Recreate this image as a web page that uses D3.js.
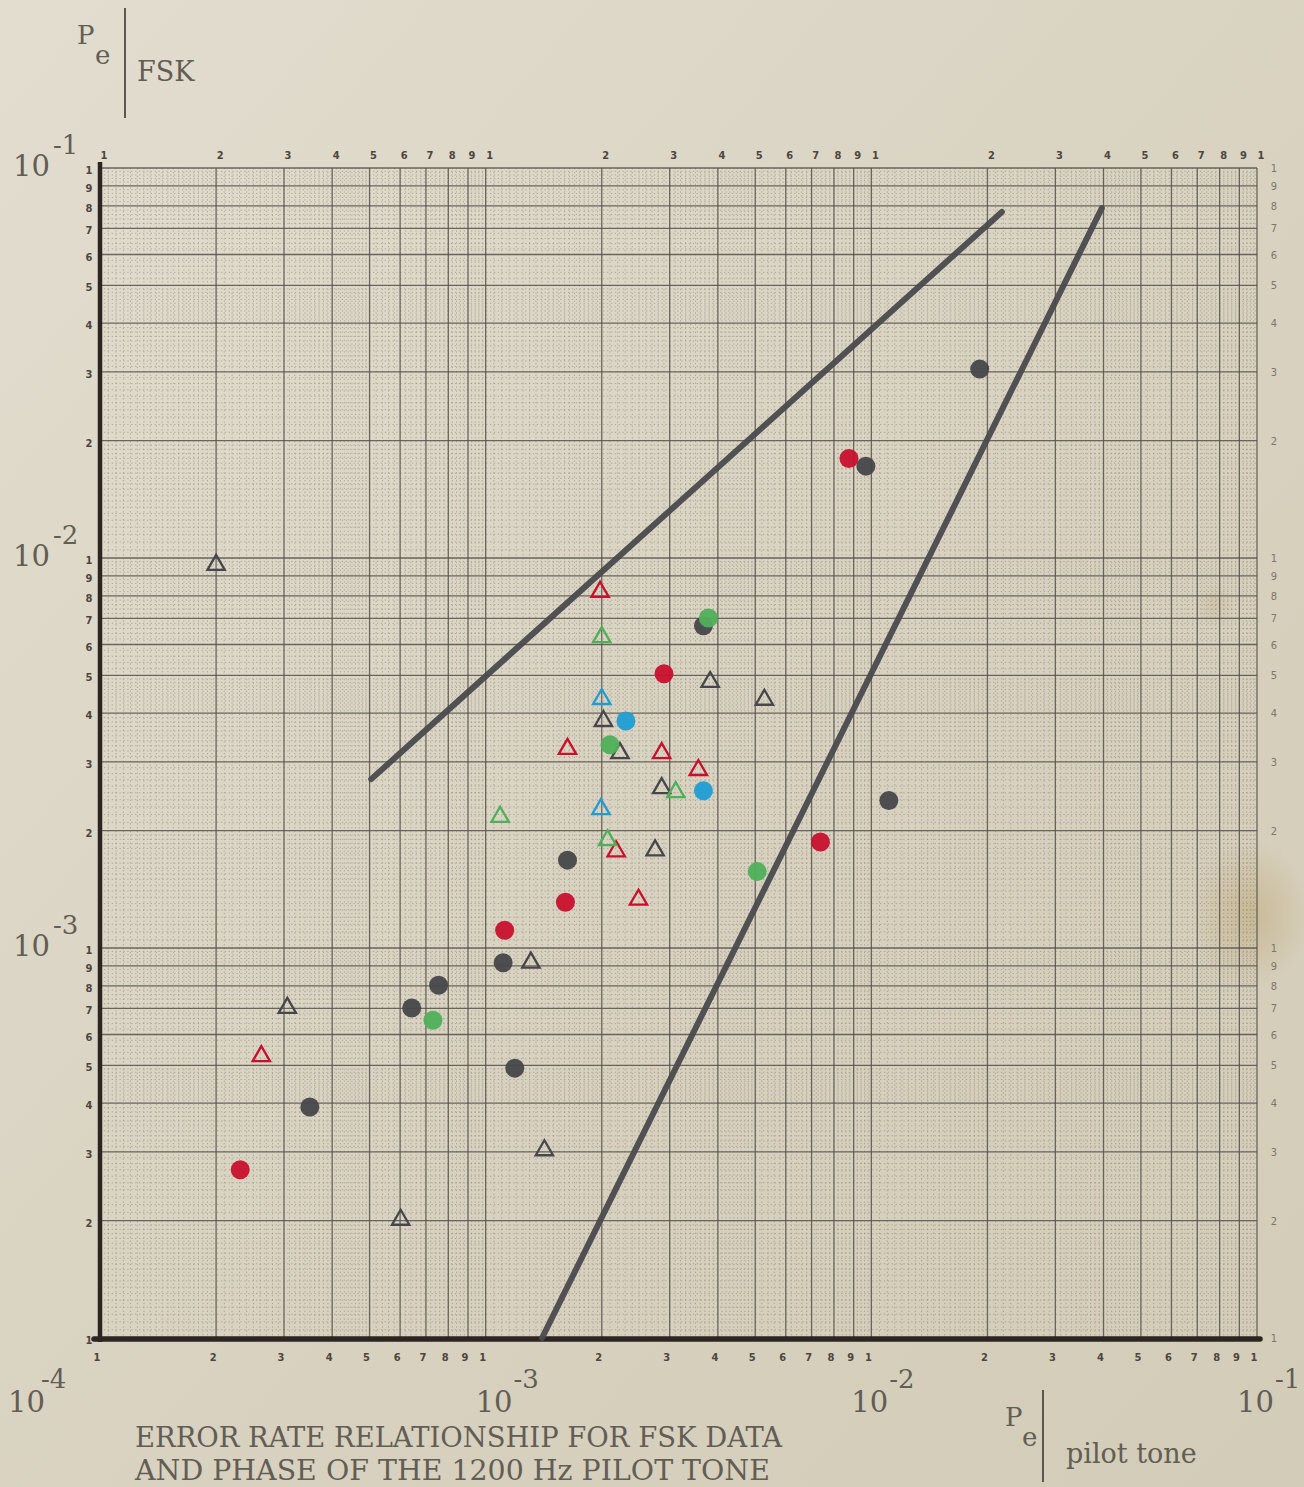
<!DOCTYPE html>
<html>
<head>
<meta charset="utf-8">
<script src="https://cdn.jsdelivr.net/npm/d3@7"></script>
<style>
  body { margin: 0; background: #d9d3c2; }
  svg { display: block; }
</style>
</head>
<body>
<div id="chart"></div>
<script>
// each reading is [Pe pilot tone, Pe FSK]
const darkDots = [
    [0.0191, 0.0305], [0.00968, 0.0172], [0.00367, 0.0067], [0.0111, 0.00239],
    [0.00163, 0.00168], [0.00111, 0.000917], [0.000755, 0.000803], [0.000643, 0.000702],
    [0.00119, 0.000492], [0.00035, 0.000391]
];
const redDots = [
    [0.00875, 0.018], [0.0029, 0.00505], [0.00738, 0.00187], [0.00161, 0.00131],
    [0.00112, 0.00111], [0.000231, 0.00027]
];
const greenDots = [[0.00378, 0.00702], [0.0021, 0.00332], [0.00506, 0.00157], [0.00073, 0.000653]];
const blueDots = [[0.00231, 0.00382], [0.00367, 0.00253]];

const darkTriangles = [
    [0.0002, 0.0096], [0.00382, 0.00481], [0.00528, 0.00433], [0.00202, 0.00382],
    [0.00223, 0.00316], [0.00286, 0.00257], [0.00275, 0.00178], [0.00131, 0.000917],
    [0.000306, 0.000702], [0.00142, 0.000303], [0.000602, 0.000201]
];
const redTriangles = [
    [0.00198, 0.00819], [0.00163, 0.00324], [0.00286, 0.00316], [0.00356, 0.00286],
    [0.00218, 0.00177], [0.00249, 0.00133], [0.000262, 0.000528]
];
const greenTriangles = [[0.002, 0.00627], [0.00109, 0.00217], [0.00311, 0.00251], [0.00207, 0.00189]];
const blueTriangles = [[0.002, 0.00435], [0.00199, 0.00227]];

// the two hand drawn boundary lines
const boundLines = [
    [[0.000505, 0.00271], [0.0218, 0.0771]],
    [[0.0014, 0.0001], [0.0396, 0.0789]]
];

const decades = [-4, -3, -2];
const decadeLabels = ['-4', '-3', '-2', '-1'];
const paperDigits = [1, 2, 3, 4, 5, 6, 7, 8, 9];
const titleLines = ['ERROR RATE RELATIONSHIP FOR FSK DATA', 'AND PHASE OF THE 1200 Hz PILOT TONE'];

const width = 1304,
    height = 1487,
    plot = {left: 100, right: 1257, top: 168, bottom: 1338},
    ink = '#4a4a4e',
    textInk = '#625d55',
    serif = 'DejaVu Serif, Liberation Serif, serif',
    digitFont = 'DejaVu Sans Condensed, DejaVu Sans, sans-serif';

const colors = {dark: '#47474b', red: '#c8102e', green: '#4fb05a', blue: '#1f9dd3'};

let svg = d3.select('#chart').append('svg')
    .attr('width', width)
    .attr('height', height);

const defs = svg.append('defs');
const grad = defs.append('linearGradient')
    .attr('id', 'paper')
    .attr('x1', 0).attr('y1', 0).attr('x2', 1).attr('y2', 1);
grad.append('stop').attr('offset', '0%').attr('stop-color', '#e2ddcf');
grad.append('stop').attr('offset', '60%').attr('stop-color', '#d8d1bf');
grad.append('stop').attr('offset', '100%').attr('stop-color', '#d3ccb8');

const stain = defs.append('radialGradient').attr('id', 'stain');
stain.append('stop').attr('offset', '0%').attr('stop-color', '#b59a5c').attr('stop-opacity', 0.4);
stain.append('stop').attr('offset', '100%').attr('stop-color', '#b59a5c').attr('stop-opacity', 0);

svg.append('rect')
    .attr('width', width)
    .attr('height', height)
    .attr('fill', 'url(#paper)');

svg.append('ellipse')
    .attr('cx', 1250).attr('cy', 915)
    .attr('rx', 60).attr('ry', 75)
    .attr('fill', 'url(#stain)');
svg.append('ellipse')
    .attr('cx', 1215).attr('cy', 605)
    .attr('rx', 22).attr('ry', 22)
    .attr('fill', 'url(#stain)')
    .attr('opacity', 0.5);

const x = d3.scaleLog().domain([1e-4, 1e-1]).range([plot.left, plot.right]);
const y = d3.scaleLog().domain([1e-4, 1e-1]).range([plot.bottom, plot.top]);

// graph paper rulings
function minorSteps() {
    const out = [];
    for (let v = 1.05; v < 1.99; v += 0.05) out.push(v);
    for (let v = 2.1; v < 4.99; v += 0.1) if (Math.abs(v - Math.round(v)) > 0.01) out.push(v);
    for (let v = 5.2; v < 9.9; v += 0.2) if (Math.abs(v - Math.round(v)) > 0.01) out.push(v);
    return out;
}
const minorVals = decades.flatMap(d => minorSteps().map(m => m * Math.pow(10, d)));
const majorVals = decades.flatMap(d => paperDigits.map(m => m * Math.pow(10, d))).concat([0.1]);

const grid = svg.append('g').attr('class', 'grid');

grid.append('g')
    .selectAll('line.vminor')
    .data(minorVals)
    .join('line')
    .attr('x1', d => x(d)).attr('x2', d => x(d))
    .attr('y1', plot.top).attr('y2', plot.bottom)
    .attr('stroke', '#6a655b')
    .attr('stroke-width', 0.9)
    .attr('stroke-dasharray', '1.3,2.6')
    .attr('opacity', 0.45);

grid.append('g')
    .selectAll('line.hminor')
    .data(minorVals)
    .join('line')
    .attr('y1', d => y(d)).attr('y2', d => y(d))
    .attr('x1', plot.left).attr('x2', plot.right)
    .attr('stroke', '#6a655b')
    .attr('stroke-width', 0.9)
    .attr('stroke-dasharray', '1.3,2.6')
    .attr('opacity', 0.45);

grid.append('g')
    .selectAll('line')
    .data(majorVals)
    .join('line')
    .attr('x1', d => x(d)).attr('x2', d => x(d))
    .attr('y1', plot.top).attr('y2', plot.bottom)
    .attr('stroke', '#56524b')
    .attr('stroke-width', 1.3)
    .attr('opacity', 0.85);

grid.append('g')
    .selectAll('line')
    .data(majorVals)
    .join('line')
    .attr('y1', d => y(d)).attr('y2', d => y(d))
    .attr('x1', plot.left).attr('x2', plot.right)
    .attr('stroke', '#56524b')
    .attr('stroke-width', 1.3)
    .attr('opacity', 0.85);

// heavy axes of the paper
svg.append('line')
    .attr('x1', plot.left).attr('x2', plot.left)
    .attr('y1', plot.top - 6).attr('y2', plot.bottom + 4)
    .attr('stroke', '#2c2522')
    .attr('stroke-width', 4.5);
svg.append('line')
    .attr('x1', plot.left - 6).attr('x2', plot.right + 3)
    .attr('y1', plot.bottom + 1).attr('y2', plot.bottom + 1)
    .attr('stroke', '#2c2522')
    .attr('stroke-width', 5.5)
    .attr('stroke-linecap', 'round');

// printed digits along the paper edges
const digitVals = majorVals.map((v, i) => ({v, label: i === majorVals.length - 1 ? 1 : paperDigits[i % 9]}));

const digits = svg.append('g')
    .attr('font-family', digitFont)
    .attr('font-weight', 'bold')
    .attr('font-size', 11)
    .attr('text-anchor', 'middle');

digits.selectAll('text.top')
    .data(digitVals)
    .join('text')
    .attr('x', d => x(d.v) + 4)
    .attr('y', plot.top - 9)
    .attr('fill', '#4b4640')
    .text(d => d.label);

digits.selectAll('text.bottom')
    .data(digitVals)
    .join('text')
    .attr('x', d => x(d.v) - 3)
    .attr('y', plot.bottom + 23)
    .attr('fill', '#4b4640')
    .text(d => d.label);

digits.selectAll('text.left')
    .data(digitVals)
    .join('text')
    .attr('x', plot.left - 11)
    .attr('y', d => y(d.v) + 6)
    .attr('fill', '#4b4640')
    .text(d => d.label);

digits.selectAll('text.right')
    .data(digitVals)
    .join('text')
    .attr('x', plot.right + 17)
    .attr('y', d => y(d.v) + 4)
    .attr('font-weight', 'normal')
    .attr('fill', '#7c766b')
    .text(d => d.label);

// decade labels
const decadeVals = decadeLabels.map(e => ({e, v: Math.pow(10, +e)}));

function powerLabel(sel, px, py) {
    const t = sel.append('text')
        .attr('x', px)
        .attr('y', py)
        .attr('font-family', serif)
        .attr('font-size', 29)
        .attr('fill', textInk);
    return t;
}

decadeVals.slice(1).forEach(d => {
    const t = powerLabel(svg, 13, y(d.v) + 8);
    t.append('tspan').text('10');
    t.append('tspan').attr('dy', -22).attr('dx', 3).attr('font-size', 26).text(d.e);
});
decadeVals.forEach(d => {
    const px = d.e === '-4' ? 8 : x(d.v) - (d.e === '-3' ? 10 : 20);
    const t = powerLabel(svg, px, 1412);
    t.append('tspan').text('10');
    t.append('tspan').attr('dy', -24).attr('dx', d.e === '-4' ? -4 : 1).attr('font-size', 26).text(d.e);
});

// axis names
const names = svg.append('g')
    .attr('font-family', serif)
    .attr('fill', textInk);

names.append('text').attr('x', 77).attr('y', 44).attr('font-size', 26).text('P');
names.append('text').attr('x', 95).attr('y', 64).attr('font-size', 26).text('e');
names.append('line')
    .attr('x1', 125).attr('x2', 125).attr('y1', 8).attr('y2', 118)
    .attr('stroke', '#5c574f').attr('stroke-width', 2);
names.append('text').attr('x', 137).attr('y', 81).attr('font-size', 27).text('FSK');

names.append('text').attr('x', 1005).attr('y', 1426).attr('font-size', 26).text('P');
names.append('text').attr('x', 1022).attr('y', 1446).attr('font-size', 26).text('e');
names.append('line')
    .attr('x1', 1043).attr('x2', 1043).attr('y1', 1390).attr('y2', 1482)
    .attr('stroke', '#5c574f').attr('stroke-width', 2);
names.append('text').attr('x', 1066).attr('y', 1463).attr('font-size', 27).text('pilot tone');

names.selectAll('text.title')
    .data(titleLines)
    .join('text')
    .attr('x', 135)
    .attr('y', (d, i) => 1447 + i * 33)
    .attr('font-size', 28)
    .attr('textLength', (d, i) => i === 0 ? 647 : 635)
    .attr('lengthAdjust', 'spacingAndGlyphs')
    .text(d => d);

// boundary lines
const line = d3.line()
    .x(d => x(d[0]))
    .y(d => y(d[1]));

svg.append('g')
    .selectAll('path')
    .data(boundLines)
    .join('path')
    .attr('d', line)
    .attr('fill', 'none')
    .attr('stroke', ink)
    .attr('stroke-width', 6)
    .attr('stroke-linecap', 'round')
    .attr('opacity', 0.95);

// readings
const dotSeries = [
    {data: darkDots, color: colors.dark},
    {data: redDots, color: colors.red},
    {data: greenDots, color: colors.green},
    {data: blueDots, color: colors.blue}
];
const triSeries = [
    {data: darkTriangles, color: colors.dark},
    {data: redTriangles, color: colors.red},
    {data: greenTriangles, color: colors.green},
    {data: blueTriangles, color: colors.blue}
];

const tri = d3.symbol(d3.symbolTriangle, 130);

const marks = svg.append('g');
triSeries.forEach(s => {
    marks.append('g')
        .selectAll('path')
        .data(s.data)
        .join('path')
        .attr('d', tri)
        .attr('transform', d => `translate(${x(d[0])}, ${y(d[1])})`)
        .attr('fill', 'none')
        .attr('stroke', s.color)
        .attr('stroke-width', 2.3)
        .attr('stroke-linejoin', 'miter');
});
dotSeries.forEach(s => {
    marks.append('g')
        .selectAll('circle')
        .data(s.data)
        .join('circle')
        .attr('cx', d => x(d[0]))
        .attr('cy', d => y(d[1]))
        .attr('r', 9.5)
        .attr('fill', s.color)
        .attr('opacity', 0.95);
});
</script>
</body>
</html>
